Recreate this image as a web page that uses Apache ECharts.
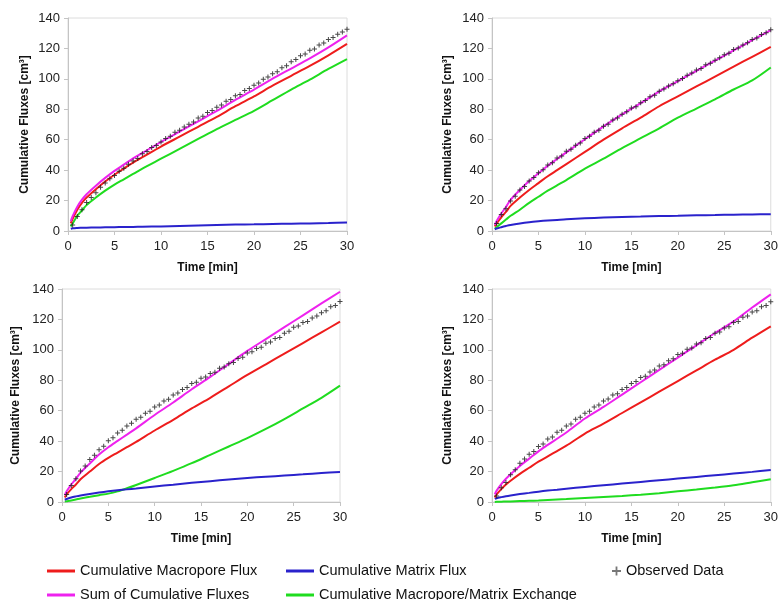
<!DOCTYPE html>
<html><head><meta charset="utf-8">
<script src="https://cdn.jsdelivr.net/npm/echarts@6/dist/echarts.min.js"></script>
<style>html,body{margin:0;padding:0;background:#fff}#c{width:781px;height:600px}</style>
</head><body><div id="c"></div>
<script>
// ---- data ----
const lineTime = [0.3,0.5,1,1.5,2,3,4,5,6,7,8,10,12,14,16,18,20,22,24,26,28,30];
const obsTime = [0.5,1,1.5,2,2.5,3,3.5,4,4.5,5,5.5,6,6.5,7,7.5,8,8.5,9,9.5,10,
  10.5,11,11.5,12,12.5,13,13.5,14,14.5,15,15.5,16,16.5,17,17.5,18,18.5,19,19.5,20,
  20.5,21,21.5,22,22.5,23,23.5,24,24.5,25,25.5,26,26.5,27,27.5,28,28.5,29,29.5,30];

// Panel 1 (top left)
const macro1 = [5,8,14,18.5,22,27.5,32.5,37,41,45,48.5,55.5,62,68.5,75,82,88.5,95.5,102,108.5,115.5,123];
const matrix1 = [1.5,1.8,2,2.1,2.2,2.3,2.4,2.5,2.6,2.7,2.8,3,3.3,3.6,3.9,4.2,4.4,4.6,4.8,5,5.2,5.6];
const sum1 = [6.5,9.8,16,20.6,24.2,29.8,34.9,39.5,43.6,47.7,51.3,58.5,65.3,72.1,78.9,86.2,92.9,100.1,106.8,113.5,120.7,128.6];
const exch1 = [3,5,10,13.5,17,22,26.5,30.5,34,37.5,41,47.5,54,60.5,67,73,79,86,93,99.5,106.5,113];
const obs1 = [4,9.5,14,18.8,22,25.2,28.8,31.5,34.3,36.5,39.2,41.3,43.8,46,47.6,50.8,52.3,54.9,56.2,58.5,
  60.8,62.3,64.9,66.2,68.4,70.2,71.6,74.3,75.4,77.9,79.2,81.4,82.8,85.3,86.4,88.9,89.8,92.4,93.7,95.8,
  97.3,99.8,101.2,103.4,104.7,107.3,108.6,111.3,112.7,115.2,116.4,118.8,119.7,122.3,123.6,125.8,127.2,129.4,130.8,132.6];

// Panel 2 (top right)
const macro2 = [3,5,9,12.5,16.5,22,27,31.5,36,40,44,52,60,67.5,74.5,82,88.5,95,101.5,108,114.5,121];
const matrix2 = [1,1.6,2.5,3.3,4,5,5.8,6.4,6.9,7.3,7.7,8.3,8.8,9.2,9.5,9.8,10,10.3,10.5,10.7,10.9,11];
const sum2 = [4,6.6,11.5,15.8,20.5,27,32.8,37.9,42.9,47.3,51.7,60.3,68.8,76.7,84,91.8,98.5,105.3,112,118.7,125.4,132];
const exch2 = [1.5,2.5,5,7.5,10,14,18.5,22.5,26.5,30,33.5,41,47.5,54.5,61,67.5,74.5,80.5,86.5,93,99,107.5];
const obs2 = [5,10.8,14.7,19.8,22.8,26.9,29.3,32.9,35.2,38.3,40.2,43.4,44.8,47.9,49.3,52.4,53.7,56.3,57.8,60.8,
  62.2,64.9,66.3,68.8,70.2,72.9,74.2,76.8,78.3,80.9,81.7,84.3,85.8,88.3,89.2,91.8,93.3,95.3,96.8,98.8,
  100.3,102.3,103.8,105.8,106.8,109.2,110.3,112.3,113.8,115.8,116.8,119.3,120.3,122.3,123.8,125.8,126.8,129.2,130.3,132.2];

// Panel 3 (bottom left)
const macro3 = [3,5,8.5,11.5,15,20,25,29,32.5,36,39.5,47,54,61.5,68.5,76,83.5,90.5,97.5,104.5,111.5,118.5];
const matrix3 = [1.5,2,3,3.7,4.3,5.3,6.2,7,7.7,8.3,8.9,10.2,11.4,12.6,13.7,14.8,15.8,16.6,17.4,18.2,19,19.7];
const sum3 = [4.5,7,11.5,15.2,19.3,25.3,31.2,36,40.2,44.3,48.4,57.2,65.4,74.1,82.2,90.8,99.3,107.1,114.9,122.7,130.5,138.2];
const exch3 = [0.3,0.5,1,1.6,2.3,3.4,4.5,5.5,7,9,11.2,15.8,20.5,25.5,31,36.5,42,48,54.5,61.5,68.5,76.5];
const obs3 = [5,10.8,15.2,20.4,23.7,27.9,30.7,34.4,36.7,40.3,42.2,45.4,47.2,49.9,51.7,54.4,55.7,58.4,59.6,62.4,
  63.7,66.4,67.6,70.4,71.7,73.9,75.2,77.9,78.7,81.4,82.2,84.4,85.2,87.9,88.7,90.9,91.7,94.4,95.2,97.9,
  98.7,100.9,101.7,104.4,105.2,107.4,108.2,110.9,112.2,114.9,115.7,117.9,118.7,120.9,122.2,124.4,125.7,128.4,129.2,131.8];

// Panel 4 (bottom right)
const macro4 = [3,5,8.5,11.5,14,18.5,22.5,26.5,30,33.5,37,45,51.5,58.5,65.5,72.5,79.5,86.5,93.5,100,108,115.5];
const matrix4 = [2,2.5,3.2,3.8,4.3,5.2,6,6.8,7.5,8.1,8.7,9.9,11,12.1,13.2,14.3,15.4,16.5,17.6,18.7,19.8,21];
const sum4 = [5,7.5,11.7,15.3,18.3,23.7,28.5,33.3,37.5,41.6,45.7,54.9,62.5,70.6,78.7,86.8,94.9,103,111.1,118.7,127.8,136.5];
const exch4 = [0,0.1,0.2,0.3,0.4,0.6,0.8,1,1.3,1.6,1.9,2.6,3.3,4,4.8,5.8,7,8.2,9.5,11,13,15];
const obs4 = [4,9.3,12.8,17.9,21.2,25.4,28.2,31.4,33.2,36.4,38.2,41.4,42.7,45.9,47.2,49.9,51.2,54.4,55.7,58.4,
  59.7,62.4,63.7,66.4,67.7,70.4,71.2,73.9,75.2,77.9,79.2,81.9,82.7,85.4,86.7,89.4,90.2,92.9,94.2,96.9,
  97.7,100.4,101.2,103.9,104.7,107.4,108.2,110.9,111.7,114.4,115.2,117.9,118.7,121.4,122.2,124.9,125.7,128.4,129.2,131.6];

const seriesNames = ['Cumulative Macropore Flux','Cumulative Matrix Flux','Sum of Cumulative Fluxes','Cumulative Macropore/Matrix Exchange','Observed Data'];
const xTitle = 'Time [min]';
const yTitle = 'Cumulative Fluxes [cm³]';

const panels = [
  {macro:macro1, matrix:matrix1, sum:sum1, exch:exch1, obs:obs1},
  {macro:macro2, matrix:matrix2, sum:sum2, exch:exch2, obs:obs2},
  {macro:macro3, matrix:matrix3, sum:sum3, exch:exch3, obs:obs3},
  {macro:macro4, matrix:matrix4, sum:sum4, exch:exch4, obs:obs4}
];

// ---- layout / style ----
const FONT = '"Liberation Sans", Arial, Helvetica, sans-serif';
const COLORS = {macro:'#ee1c1c', matrix:'#2a22cc', sum:'#ee22ee', exch:'#1fdc1f', obs:'#1a1a1a'};
const PLUS = 'path://M4,0H6V4H10V6H6V10H4V6H0V4H4Z';
const gridBoxes = [
  {left:68, top:18, width:279, height:213},
  {left:492, top:18, width:279, height:213},
  {left:62, top:289, width:278, height:213},
  {left:492, top:289, width:279, height:213}
];
const yGaps = [37, 38, 40, 38];
const axisGray = '#c4c4c4';

const grid = gridBoxes.map(g => Object.assign({show:true, borderColor:'#dcdcdc', borderWidth:1, backgroundColor:'#fff'}, g));
const xAxis = gridBoxes.map((g,i) => ({
  gridIndex:i, type:'value', min:0, max:30, interval:5,
  axisLine:{show:true, onZero:false, lineStyle:{color:axisGray, width:1}},
  axisTick:{show:true, length:4, lineStyle:{color:axisGray}},
  splitLine:{show:false},
  axisLabel:{fontSize:13, color:'#222', margin:9, fontFamily:FONT},
  name:xTitle, nameLocation:'middle', nameGap:31,
  nameTextStyle:{fontSize:12, fontWeight:'bold', color:'#111', fontFamily:FONT}
}));
const yAxis = gridBoxes.map((g,i) => ({
  gridIndex:i, type:'value', min:0, max:140, interval:20,
  axisLine:{show:true, onZero:false, lineStyle:{color:axisGray, width:1}},
  axisTick:{show:true, length:4, lineStyle:{color:axisGray}},
  splitLine:{show:false},
  axisLabel:{fontSize:13, color:'#222', margin:8, fontFamily:FONT},
  name:yTitle, nameLocation:'middle', nameGap:yGaps[i],
  nameTextStyle:{fontSize:12, fontWeight:'bold', color:'#111', fontFamily:FONT}
}));

const series = [];
panels.forEach((p,i) => {
  const mk = (key, name, arr) => ({
    name, type:'line', xAxisIndex:i, yAxisIndex:i, smooth:0.3, showSymbol:false,
    data: lineTime.map((t,k)=>[t, arr[k]]),
    lineStyle:{color:COLORS[key], width:2}, itemStyle:{color:COLORS[key]}, z:2
  });
  series.push(mk('exch', seriesNames[3], p.exch));
  series.push(mk('matrix', seriesNames[1], p.matrix));
  series.push(mk('macro', seriesNames[0], p.macro));
  series.push(mk('sum', seriesNames[2], p.sum));
  series.push({
    name:seriesNames[4], type:'scatter', xAxisIndex:i, yAxisIndex:i,
    symbol:PLUS, symbolSize:5, data: obsTime.map((t,k)=>[t, p.obs[k]]),
    itemStyle:{color:COLORS.obs, opacity:0.8}, z:3
  });
});

const legTxt = {fontSize:14.5, color:'#111', fontFamily:FONT, lineHeight:16};
const legItem = (name, left, top, icon, w, h, extra) => ({
  left, top, orient:'horizontal', itemWidth:w, itemHeight:h, textStyle:legTxt, padding:0,
  data:[Object.assign({name, icon}, extra || {})]
});
const legend = [
  legItem(seriesNames[0], 47, 563, 'rect', 28, 3),
  legItem(seriesNames[2], 47, 587, 'rect', 28, 3),
  legItem(seriesNames[1], 286, 563, 'rect', 28, 3),
  legItem(seriesNames[3], 286, 587, 'rect', 28, 3),
  legItem(seriesNames[4], 612, 563, PLUS, 9, 9, {itemStyle:{color:'#555'}})
];

const chart = echarts.init(document.getElementById('c'), null, {renderer:'canvas'});
chart.setOption({animation:false, backgroundColor:'#fff', textStyle:{fontFamily:FONT}, grid, xAxis, yAxis, legend, series});
</script>
</body></html>
